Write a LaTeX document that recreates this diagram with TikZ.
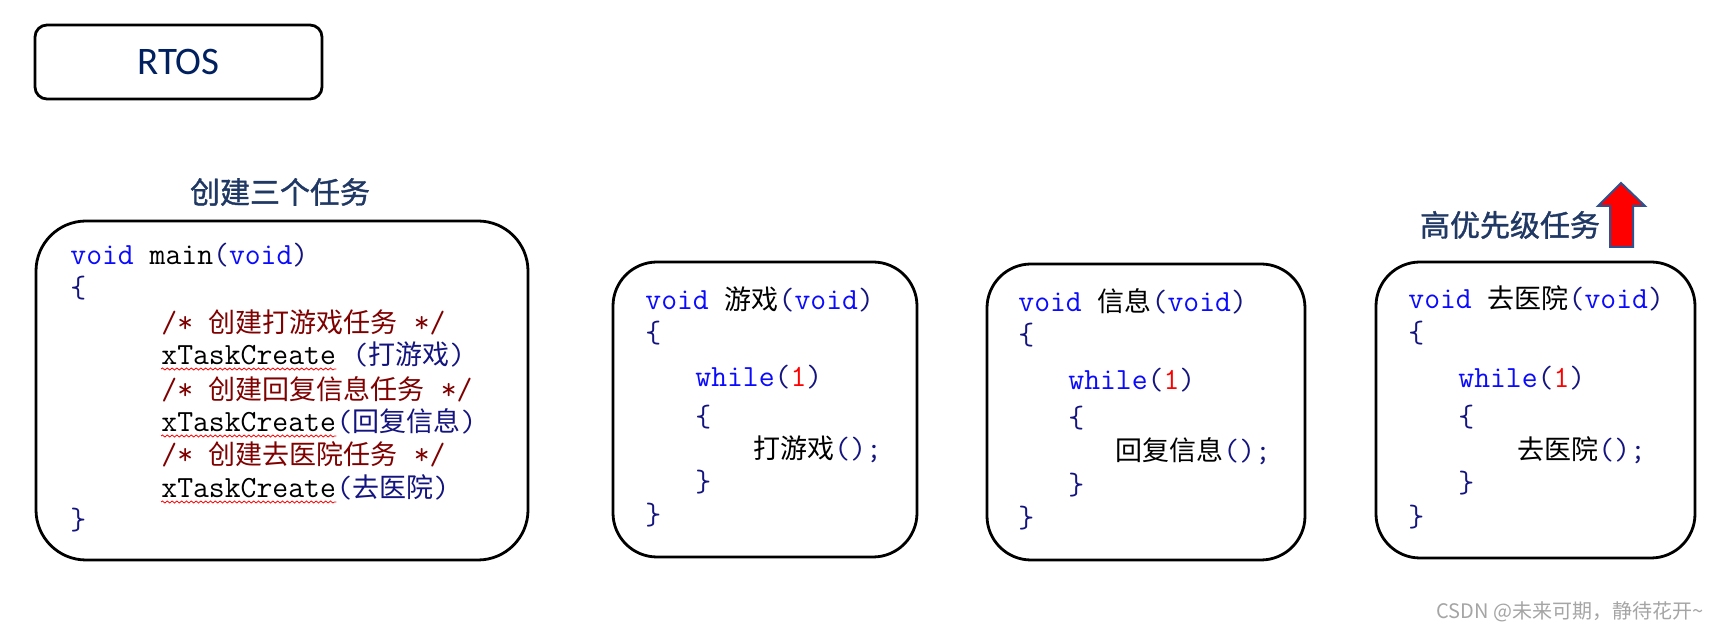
\documentclass[tikz,border=0pt]{standalone}
\usepackage{fontspec}
\newfontfamily\cjk{Noto Sans CJK SC}
\newfontfamily\cjkt[FakeBold=1.2]{Noto Sans CJK SC}
\newfontfamily\calib{Carlito}
\usetikzlibrary{decorations.pathmorphing}
\definecolor{kwblue}{RGB}{10,10,255}
\definecolor{navy}{RGB}{20,20,128}
\definecolor{cmred}{RGB}{128,0,0}
\definecolor{titleblue}{RGB}{31,56,100}
\definecolor{rtosblue}{RGB}{0,32,96}
\definecolor{arrowblue}{RGB}{47,82,143}
\definecolor{wmgray}{RGB}{165,165,165}
\newcommand\zhf{\cjk\fontsize{13.5}{16}\selectfont}
\newcommand\kw[1]{\textcolor{kwblue}{#1}}
\newcommand\pn[1]{\textcolor{navy}{#1}}
\newcommand\zh[1]{{\zhf #1}}
\newcommand\cnum[1]{\textcolor{red}{#1}}
\newcommand\cmt[1]{\textcolor{cmred}{/*\ {\zhf #1}\ */}}
\tikzset{
  codebox/.style={draw=black, line width=1.4pt, rounded corners=22pt, inner sep=0pt},
  code/.style={anchor=base west, inner sep=0pt, font=\ttfamily\fontsize{15.4}{18}\selectfont},
  title/.style={inner sep=0pt, text=titleblue, font=\cjkt\fontsize{15}{18}\selectfont},
  squig/.style={red, line width=0.4pt, decorate, decoration={snake, amplitude=0.5pt, segment length=2.4pt}}
}
\begin{document}
\begin{tikzpicture}[x=0.5pt,y=-0.5pt]
\useasboundingbox (0,0) rectangle (1726,630);
\fill[white] (0,0) rectangle (1726,630);

% RTOS box
\node[draw=black, line width=1.4pt, rounded corners=6pt, minimum width=143.5pt, minimum height=37pt, inner sep=0pt,
      text=rtosblue, font=\calib\fontsize{19.5}{23}\selectfont] (rtos) at (178.5,62) {RTOS};

% titles
\node[title] (t1) at (280,192) {创建三个任务};
\node[title] (t2) at (1510,225) {高优先级任务};

% arrow
\draw[fill=red, draw=arrowblue, line width=1pt, line join=miter]
  (1621,183) -- (1645,206) -- (1633,206) -- (1633,247) -- (1610,247) -- (1610,206) -- (1598,206) -- cycle;

% boxes
\node[codebox, rounded corners=25pt, minimum width=246pt, minimum height=169.5pt] (mainbox) at (282,390.5) {};
\node[codebox, minimum width=152pt, minimum height=147.5pt] (box2) at (765,409.5) {};
\node[codebox, minimum width=159pt, minimum height=148pt] (box3) at (1146,412) {};
\node[codebox, minimum width=159.5pt, minimum height=148pt] (box4) at (1535.5,410) {};

% main code
\node[code] (m1) at (70,265) {\kw{void} main\pn{(}\kw{void}\pn{)}};
\node[code] (m2) at (70,298) {\pn{\{}};
\node[code] (m3) at (161,333) {\cmt{创建打游戏任务}};
\node[code] (x1) at (161,365) {xTaskCreate};
\node[code] (a1) at (x1.base east) {\pn{\ (}\textcolor{navy}{\zhf 打游戏}\pn{)}};
\node[code] (m5) at (161,400) {\cmt{创建回复信息任务}};
\node[code] (x2) at (161,432) {xTaskCreate};
\node[code] (a2) at (x2.base east) {\pn{(}\textcolor{navy}{\zhf 回复信息}\pn{)}};
\node[code] (m7) at (161,465) {\cmt{创建去医院任务}};
\node[code] (x3) at (161,498) {xTaskCreate};
\node[code] (a3) at (x3.base east) {\pn{(}\textcolor{navy}{\zhf 去医院}\pn{)}};
\node[code] (m9) at (70,530) {\pn{\}}};
\draw[squig] ([yshift=-2pt]x1.base west) -- ([yshift=-2pt]x1.base east);
\draw[squig] ([yshift=-2pt]x2.base west) -- ([yshift=-2pt]x2.base east);
\draw[squig] ([yshift=-2pt]x3.base west) -- ([yshift=-2pt]x3.base east);

% box 2
\node[code] (b1) at (645,310) {\kw{void} \zh{游戏}\pn{(}\kw{void}\pn{)}};
\node[code] (b2) at (645,343) {\pn{\{}};
\node[code] (b3) at (695,387) {\kw{while}\pn{(}\cnum{1}\pn{)}};
\node[code] (b4) at (695,427) {\pn{\{}};
\node[code] (b5) at (753,459) {\zh{打游戏}\pn{();}};
\node[code] (b6) at (695,492) {\pn{\}}};
\node[code] (b7) at (645,525) {\pn{\}}};

% box 3
\node[code] (c1) at (1018,312) {\kw{void} \zh{信息}\pn{(}\kw{void}\pn{)}};
\node[code] (c2) at (1018,345) {\pn{\{}};
\node[code] (c3) at (1068,390) {\kw{while}\pn{(}\cnum{1}\pn{)}};
\node[code] (c4) at (1068,428) {\pn{\{}};
\node[code] (c5) at (1115,461) {\zh{回复信息}\pn{();}};
\node[code] (c6) at (1068,495) {\pn{\}}};
\node[code] (c7) at (1018,528) {\pn{\}}};

% box 4
\node[code] (d1) at (1408,309) {\kw{void} \zh{去医院}\pn{(}\kw{void}\pn{)}};
\node[code] (d2) at (1408,343) {\pn{\{}};
\node[code] (d3) at (1458,388) {\kw{while}\pn{(}\cnum{1}\pn{)}};
\node[code] (d4) at (1458,427) {\pn{\{}};
\node[code] (d5) at (1517,460) {\zh{去医院}\pn{();}};
\node[code] (d6) at (1458,493) {\pn{\}}};
\node[code] (d7) at (1408,527) {\pn{\}}};

% watermark
\node[anchor=east, inner sep=0pt, text=wmgray, font=\cjk\fontsize{10}{12}\selectfont] (wm) at (1704,612) {CSDN @未来可期，静待花开\textasciitilde};
\end{tikzpicture}
\end{document}
